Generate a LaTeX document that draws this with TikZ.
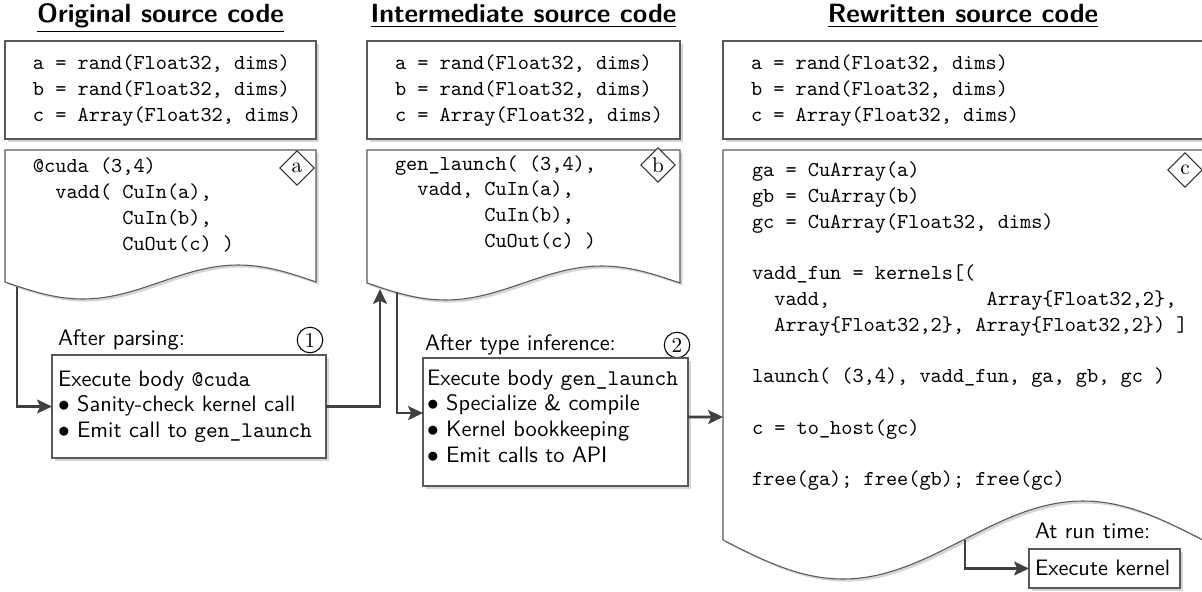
\documentclass[tikz,border=0pt]{standalone}
\usetikzlibrary{shapes.geometric,arrows.meta,shadows}
\newcommand\tsp[1]{\hspace*{#1\fontcharwd\font`x}}
\newcommand\bul{$\bullet$\ }
\begin{document}
\begin{tikzpicture}[x=0.47pt,y=-0.47pt,
  every node/.style={inner sep=0pt, outer sep=0pt},
  frame/.style={draw=black!65, line width=0.5pt, fill=white,
    drop shadow={shadow xshift=1.2pt, shadow yshift=-1.2pt, opacity=0.3, fill=black!55}},
  boxnode/.style={frame, rectangle, anchor=north west},
  code/.style={anchor=base west, font=\ttfamily\fontsize{10}{12.1}\selectfont, text width=14cm, align=flush left,
    execute at begin node={\spaceskip=\fontcharwd\font`x\relax\xspaceskip=\spaceskip}},
  sans/.style={anchor=base west, font=\sffamily\fontsize{10.5}{12.1}\selectfont, text width=8cm, align=flush left},
  title/.style={anchor=base, font=\sffamily\bfseries\fontsize{12.4}{15}\selectfont},
  tag/.style={diamond, draw=black!80, line width=0.5pt, fill=white, minimum size=16pt, font=\rmfamily\fontsize{10}{12}\selectfont},
  num/.style={circle, draw=black, line width=0.5pt, minimum size=12pt, font=\rmfamily\fontsize{10}{12}\selectfont},
  flow/.style={draw=black!75, line width=1.3pt, -{Stealth[length=7pt,width=6.5pt,inset=1.5pt]}},
]
\useasboundingbox (0,0) rectangle (1202,592);

% titles
\node[title] (h1) at (160.5,23) {\underline{Original source code}};
\node[title] (h2) at (523.5,23) {\underline{Intermediate source code}};
\node[title] (h3) at (963,23) {\underline{Rewritten source code}};

% top boxes
\node[boxnode, minimum width={311*0.47pt}, minimum height={98*0.47pt}] (top1) at (5,41) {};
\node[boxnode, minimum width={313*0.47pt}, minimum height={98*0.47pt}] (top2) at (367,41) {};
\node[boxnode, minimum width={480*0.47pt}, minimum height={98*0.47pt}] (top3) at (723,41) {};
\node[code] (c1) at (33,70) {a = rand(Float32, dims)\\b = rand(Float32, dims)\\c = Array(Float32, dims)};
\node[code] (c2) at (395,70) {a = rand(Float32, dims)\\b = rand(Float32, dims)\\c = Array(Float32, dims)};
\node[code] (c3) at (751,70) {a = rand(Float32, dims)\\b = rand(Float32, dims)\\c = Array(Float32, dims)};

% document shapes
\path[frame] (5,150) -- (316,150) -- (316,282) sin (238.25,265) cos (160.5,282) sin (82.75,299) cos (5,282) -- cycle;
\path[frame] (367,150) -- (680,150) -- (680,283) sin (601.75,266) cos (523.5,283) sin (445.25,300) cos (367,283) -- cycle;
\path[frame] (723,150) -- (1203,150) -- (1203,540) sin (1083,501) cos (963,540) sin (843,579) cos (723,540) -- cycle;

\node[code] (d1) at (33,173) {@cuda (3,4)\\\tsp{2}vadd( CuIn(a),\\\tsp{8}CuIn(b),\\\tsp{8}CuOut(c) )};
\node[code] (d2) at (395,170) {gen\_launch( (3,4),\\\tsp{2}vadd, CuIn(a),\\\tsp{8}CuIn(b),\\\tsp{8}CuOut(c) )};
\node[code] (d3) at (752,177) {ga = CuArray(a)\\gb = CuArray(b)\\gc = CuArray(Float32, dims)\\\mbox{}\\vadd\_fun = kernels[(\\\tsp{2}vadd,\tsp{14}Array\{Float32,2\},\\\tsp{2}Array\{Float32,2\}, Array\{Float32,2\}) ]\\\mbox{}\\launch( (3,4), vadd\_fun, ga, gb, gc )\\\mbox{}\\c = to\_host(gc)\\\mbox{}\\free(ga); free(gb); free(gc)};

\node[tag] (ta) at (297,168) {a};
\node[tag] (tb) at (658,165) {b};
\node[tag] (tc) at (1185,170) {c};

% lower boxes
\node[sans] (l1) at (58,345) {After parsing:};
\node[num] (n1) at (310,340) {1};
\node[boxnode, minimum width={274*0.47pt}, minimum height={103*0.47pt}] (low1) at (52,355) {};
\node[sans] (b1) at (58,386) {Execute body \texttt{@cuda}\\\bul Sanity-check kernel call\\\bul Emit call to \texttt{gen\_launch}};

\node[sans] (l2) at (425,350) {After type inference:};
\node[num] (n2) at (677,345) {2};
\node[boxnode, minimum width={265*0.47pt}, minimum height={128*0.47pt}] (low2) at (423,358) {};
\node[sans] (b2) at (427,385) {Execute body \texttt{gen\_launch}\\\bul Specialize \& compile\\\bul Kernel bookkeeping\\\bul Emit calls to API};

\node[sans] (l3) at (1035,538) {At run time:};
\node[boxnode, minimum width={151*0.47pt}, minimum height={39*0.47pt}] (low3) at (1029,549) {};
\node[sans] (b3) at (1035,575) {Execute kernel};

% connectors
\coordinate (o1) at (17,287);
\coordinate (i2) at (380,289);
\coordinate (o2) at (397,292);
\coordinate (d3w) at (723,417);
\coordinate (o3) at (965,540);
\draw[flow] (o1) |- (low1.west);
\draw[flow] (low1.east) -| (i2);
\draw[flow] (o2) |- ([yshift=4.2pt]low2.west);
\draw[flow] ([yshift=2.3pt]low2.east) -- (d3w);
\draw[flow] (o3) |- (low3.west);
\end{tikzpicture}
\end{document}
